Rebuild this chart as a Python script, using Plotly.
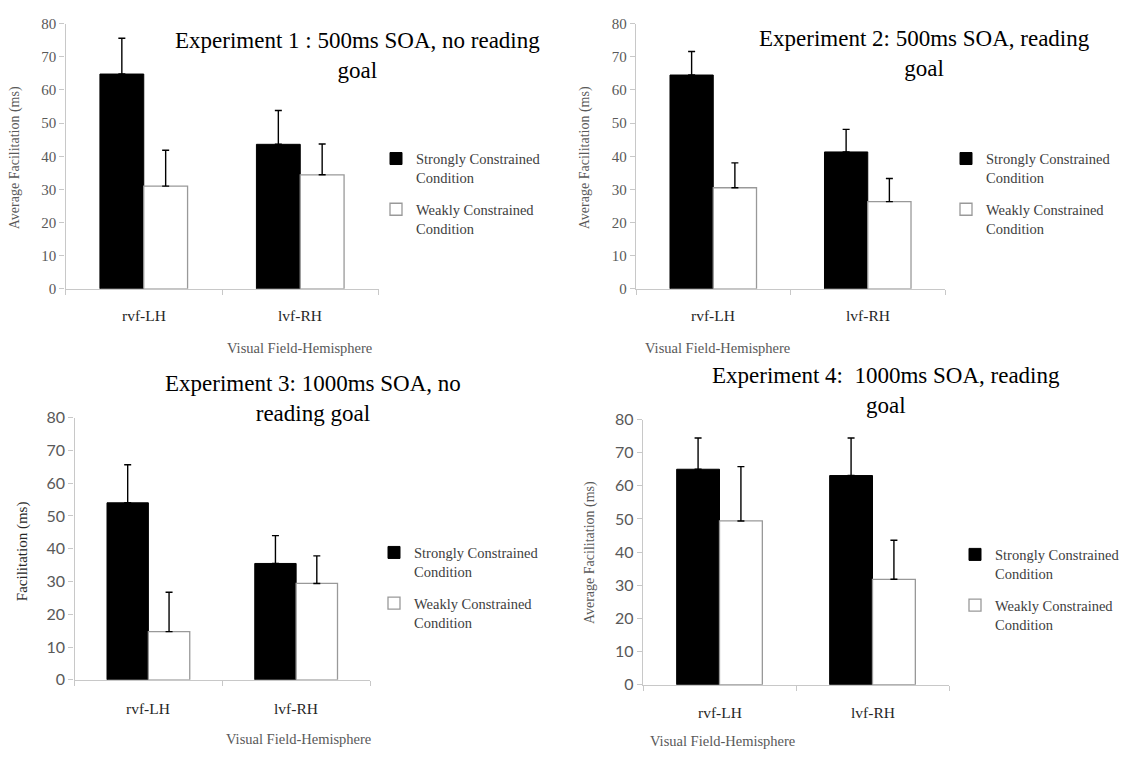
import plotly.graph_objects as go

W, H = 1136, 761

categories = ["rvf-LH", "lvf-RH"]
series_names = ["Strongly Constrained<br>Condition", "Weakly Constrained<br>Condition"]

exp1_strong = [64.8, 43.6]
exp1_strong_err = [10.8, 10.2]
exp1_weak = [31.0, 34.4]
exp1_weak_err = [10.8, 9.3]

exp2_strong = [64.5, 41.3]
exp2_strong_err = [7.1, 6.8]
exp2_weak = [30.5, 26.3]
exp2_weak_err = [7.5, 7.0]

exp3_strong = [54.0, 35.5]
exp3_strong_err = [11.6, 8.5]
exp3_weak = [14.7, 29.4]
exp3_weak_err = [12.0, 8.4]

exp4_strong = [65.0, 63.1]
exp4_strong_err = [9.4, 11.3]
exp4_weak = [49.4, 31.8]
exp4_weak_err = [16.4, 11.8]

titles = [
    "Experiment 1 : 500ms SOA, no reading<br>goal",
    "Experiment 2: 500ms SOA, reading<br>goal",
    "Experiment 3: 1000ms SOA, no<br>reading goal",
    "Experiment 4:\u00a0 1000ms SOA, reading<br>goal",
]
y_titles = [
    "Average Facilitation (ms)",
    "Average Facilitation (ms)",
    "Facilitation (ms)",
    "Average Facilitation (ms)",
]
x_title = "Visual Field-Hemisphere"
y_ticks = [0, 10, 20, 30, 40, 50, 60, 70, 80]


def px(x):
    return x / W


def py(y):
    return 1 - y / H


SERIF = "Liberation Serif"
SANS = "Lato"
GRAY = "#595959"

# panel layout in pixels: plot-area left/right, y of value 80, y of value 0
panels = [
    dict(x0=65.5, x1=378.5, ytop=14, ybot=286, tickfont=SERIF, ticksize=15,
         title_xy=(357, 47), ytitle_xy=(15, 152), ytitle_size=14, ytitle_color=GRAY,
         xtick_y=313, xtitle_xy=(225, 347), legend_xy=(376, 136)),
    dict(x0=636, x1=945, ytop=14, ybot=286, tickfont=SERIF, ticksize=15,
         title_xy=(924, 45), ytitle_xy=(585, 152), ytitle_size=14, ytitle_color=GRAY,
         xtick_y=313, xtitle_xy=(792, 347), legend_xy=(946, 136)),
    dict(x0=74.5, x1=370, ytop=418, ybot=687, tickfont=SANS, ticksize=16,
         title_xy=(313, 398), ytitle_xy=(22, 555), ytitle_size=15, ytitle_color="#262626",
         xtick_y=716, xtitle_xy=(224, 748), legend_xy=(374, 540)),
    dict(x0=643, x1=949, ytop=420, ybot=692, tickfont=SANS, ticksize=16,
         title_xy=(886, 390), ytitle_xy=(590, 557), ytitle_size=14, ytitle_color=GRAY,
         xtick_y=720, xtitle_xy=(797, 750), legend_xy=(955, 542)),
]

data = [
    (exp1_strong, exp1_strong_err, exp1_weak, exp1_weak_err),
    (exp2_strong, exp2_strong_err, exp2_weak, exp2_weak_err),
    (exp3_strong, exp3_strong_err, exp3_weak, exp3_weak_err),
    (exp4_strong, exp4_strong_err, exp4_weak, exp4_weak_err),
]

fig = go.Figure()
layout = dict(
    width=W, height=H,
    margin=dict(l=0, r=0, t=0, b=0),
    paper_bgcolor="white", plot_bgcolor="white",
    barmode="group", bargap=0.44, bargroupgap=0,
    annotations=[], shapes=[],
)

for i, (p, (s, se, w, we)) in enumerate(zip(panels, data)):
    n = "" if i == 0 else str(i + 1)
    xa, ya = "x" + n, "y" + n
    leg = "legend" + n
    err_style = dict(type="data", symmetric=False, color="black", thickness=1.4, width=3.5)
    fig.add_trace(go.Bar(
        x=categories, y=s, name=series_names[0], xaxis=xa, yaxis=ya, legend=leg,
        legendgroup=f"strong{i}",
        marker=dict(color="black", line=dict(color="black", width=1)),
        error_y=dict(array=se, arrayminus=[0] * len(se), **err_style),
    ))
    fig.add_trace(go.Bar(
        x=categories, y=w, name=series_names[1], xaxis=xa, yaxis=ya, legend=leg,
        legendgroup=f"weak{i}",
        marker=dict(color="white", line=dict(color="#999999", width=1.3)),
        error_y=dict(array=we, arrayminus=[0] * len(we), **err_style),
    ))

    layout["xaxis" + n] = dict(
        domain=[px(p["x0"]), px(p["x1"])], anchor=ya,
        range=[-0.5, 1.5], type="category",
        showline=True, linecolor="#c8c8c8", linewidth=1.3,
        ticks="outside", tickson="boundaries", ticklen=5, tickcolor="#c8c8c8",
        showticklabels=False, showgrid=False, zeroline=False, fixedrange=True,
    )
    layout["yaxis" + n] = dict(
        domain=[py(p["ybot"]), py(p["ytop"])], anchor=xa,
        range=[0, 80], tickvals=y_ticks,
        showline=True, linecolor="#c8c8c8", linewidth=1.3,
        ticks="outside", ticklen=5, tickcolor="#c8c8c8",
        tickfont=dict(family=p["tickfont"], size=p["ticksize"], color=GRAY),
        showgrid=False, zeroline=False, fixedrange=True,
    )
    layout[leg] = dict(
        x=px(p["legend_xy"][0]), y=py(p["legend_xy"][1]),
        xanchor="left", yanchor="top", valign="top",
        font=dict(family=SERIF, size=14.5, color="#404040"),
        bgcolor="rgba(0,0,0,0)", tracegroupgap=10, itemclick=False,
    )

    # category labels under each axis
    for c in categories:
        layout["annotations"].append(dict(
            x=c, xref=xa, y=py(p["xtick_y"]), yref="paper", text=c, showarrow=False,
            font=dict(family=SERIF, size=15.5, color="#262626"), yanchor="middle",
        ))
    layout["annotations"].append(dict(
        x=px(p["xtitle_xy"][0]), y=py(p["xtitle_xy"][1]), xref="paper", yref="paper",
        text=x_title, showarrow=False, yanchor="middle",
        font=dict(family=SERIF, size=14.5, color=GRAY),
    ))
    layout["annotations"].append(dict(
        x=px(p["ytitle_xy"][0]), y=py(p["ytitle_xy"][1]), xref="paper", yref="paper",
        text=y_titles[i], showarrow=False, textangle=-90, xanchor="center", yanchor="middle",
        font=dict(family=SERIF, size=p["ytitle_size"], color=p["ytitle_color"]),
    ))
    layout["annotations"].append(dict(
        x=px(p["title_xy"][0]), y=py(p["title_xy"][1]), xref="paper", yref="paper",
        text=titles[i], showarrow=False, xanchor="center", yanchor="middle",
        font=dict(family=SERIF, size=23, color="black"),
    ))

fig.update_layout(**layout)
fig.write_html("out.html")
